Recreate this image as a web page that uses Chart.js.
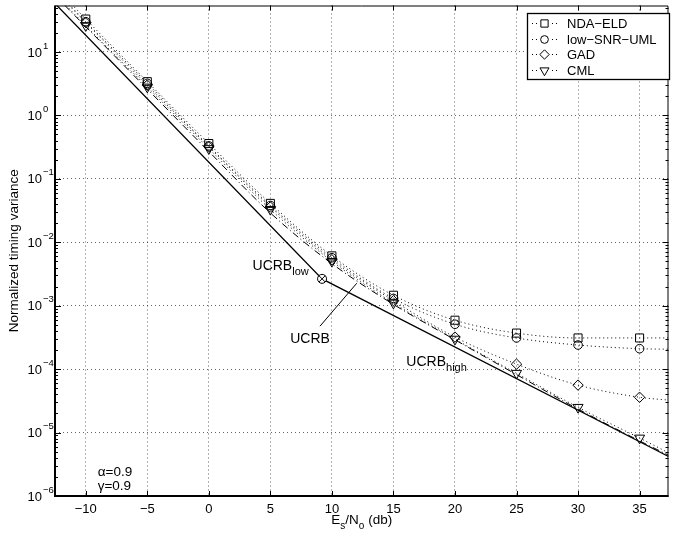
<!DOCTYPE html>
<html>
<head>
<meta charset="utf-8">
<script src="https://cdn.jsdelivr.net/npm/chart.js@4.4.0/dist/chart.umd.min.js"></script>
<style>
  html, body { margin: 0; padding: 0; background: #fff; }
  canvas { display: block; }
</style>
</head>
<body>
<canvas id="c" width="674" height="537"></canvas>
<script>
// simulation points (Es/No in dB) and the four estimators
const snrDb     = [-10, -5, 0, 5, 10, 15, 20, 25, 30, 35];
const ndaEld    = [33, 3.4, 0.36, 0.041, 6.1e-3, 1.46e-3, 5.9e-4, 3.7e-4, 3.1e-4, 3.1e-4];
const lowSnrUml = [30, 3.2, 0.33, 0.038, 5.7e-3, 1.3e-3, 5.1e-4, 3.1e-4, 2.4e-4, 2.1e-4];
const gad       = [29, 3.0, 0.32, 0.036, 5.3e-3, 1.2e-3, 3.2e-4, 1.2e-4, 5.6e-5, 3.6e-5];
const cml       = [26, 2.8, 0.30, 0.033, 5.0e-3, 1.1e-3, 2.97e-4, 8.6e-5, 2.5e-5, 8.2e-6];

// the dotted curves run on past the markers up to the frame
const edgeDb        = [-12.5, 37.35];
const ndaEldEdge    = [107, 3.1e-4];
const lowSnrUmlEdge = [95, 2.06e-4];
const gadEdge       = [92, 3.25e-5];
const cmlEdge       = [82, 4.8e-6];

// dash-dot curve (no marker, not in the legend)
const dashDb  = [-12.5, -10, -5, 0, 5, 10, 15, 20, 25, 30, 35, 37.35];
const dashVal = [78, 25, 2.6, 0.27, 0.029, 4.6e-3, 1.05e-3, 2.9e-4, 8.2e-5, 2.35e-5, 7.4e-6, 4.4e-6];

// UCRB: low-SNR branch, knee, high-SNR branch
const ucrbDb  = [-12.5, 9.2, 37.35];
const ucrbVal = [58, 2.65e-3, 4.2e-6];
const kneeDb = [9.2], kneeVal = [2.65e-3];

// leader line to the "UCRB" label
const leaderDb  = [9.03, 12.02];
const leaderVal = [4.75e-4, 2.26e-3];

const xTicks = [-10, -5, 0, 5, 10, 15, 20, 25, 30, 35];
const yExps  = [-6, -5, -4, -3, -2, -1, 0, 1];
const legendNames = ['NDA\u2212ELD', 'low\u2212SNR\u2212UML', 'GAD', 'CML'];

const FONT = "'Liberation Sans', Arial, Helvetica, sans-serif";

const pts = (xs, ys) => xs.map((x, i) => ({ x, y: ys[i] }));
const curve = (edge, vals) => [{ x: edgeDb[0], y: edge[0] }, ...pts(snrDb, vals), { x: edgeDb[1], y: edge[1] }];
const radii = r => [0, ...snrDb.map(() => r), 0];

const MK = [
  { pointStyle: 'rect',     radius: 5.7, rotation: 0 },
  { pointStyle: 'circle',   radius: 4.3, rotation: 0 },
  { pointStyle: 'rectRot',  radius: 5.2, rotation: 0 },
  { pointStyle: 'triangle', radius: 5.8, rotation: 180 },
];

function estDs(label, data, mk) {
  return {
    label, data,
    borderColor: '#000', borderWidth: 1, borderDash: [1, 3],
    cubicInterpolationMode: 'monotone',
    pointStyle: mk.pointStyle, pointRotation: mk.rotation,
    pointRadius: radii(mk.radius),
    pointBorderColor: '#000', pointBackgroundColor: 'rgba(0,0,0,0)', pointBorderWidth: 1,
  };
}

// rich text: parts = [[text, 'n' | 'sub' | 'sup'], ...]
function rich(ctx, x, y, parts, size, subSize, align) {
  const w = parts.map(([t, k]) => {
    ctx.font = (k === 'n' ? size : subSize) + 'px ' + FONT;
    return ctx.measureText(t).width;
  });
  const total = w.reduce((a, b) => a + b, 0);
  let cx = align === 'center' ? x - total / 2 : x;
  ctx.textAlign = 'left';
  ctx.textBaseline = 'alphabetic';
  parts.forEach(([t, k], i) => {
    ctx.font = (k === 'n' ? size : subSize) + 'px ' + FONT;
    const dy = k === 'sub' ? size * 0.35 : k === 'sup' ? -size * 0.45 : 0;
    ctx.fillText(t, cx, y + dy);
    cx += w[i];
  });
}

const decor = {
  id: 'decor',
  afterDraw(chart) {
    const { ctx, chartArea: a, scales: { x, y } } = chart;
    ctx.save();
    ctx.fillStyle = '#000';
    ctx.strokeStyle = '#000';
    ctx.setLineDash([]);

    // inward ticks on all four sides
    ctx.lineWidth = 1;
    ctx.beginPath();
    xTicks.forEach(v => {
      const px = Math.round(x.getPixelForValue(v)) + 0.5;
      ctx.moveTo(px, a.bottom); ctx.lineTo(px, a.bottom - 5);
      ctx.moveTo(px, a.top);    ctx.lineTo(px, a.top + 5);
    });
    yExps.forEach(e => {
      for (let m = 1; m < 10; m++) {
        const v = m * Math.pow(10, e);
        if (v > y.max) break;
        const len = m === 1 ? 6 : 3;
        const py = Math.round(y.getPixelForValue(v)) + 0.5;
        ctx.moveTo(a.left, py);  ctx.lineTo(a.left + len, py);
        ctx.moveTo(a.right, py); ctx.lineTo(a.right - len, py);
      }
    });
    ctx.stroke();

    // frame: heavier left/bottom
    ctx.lineWidth = 1;
    ctx.beginPath();
    ctx.moveTo(a.left, a.top + 0.5); ctx.lineTo(a.right - 0.5, a.top + 0.5); ctx.lineTo(a.right - 0.5, a.bottom);
    ctx.stroke();
    ctx.lineWidth = 2;
    ctx.beginPath();
    ctx.moveTo(a.left, a.top); ctx.lineTo(a.left, a.bottom); ctx.lineTo(a.right, a.bottom);
    ctx.stroke();

    // x tick labels
    ctx.font = '13px ' + FONT;
    ctx.textAlign = 'center';
    ctx.textBaseline = 'middle';
    xTicks.forEach(v => {
      const s = v < 0 ? '\u2212' + (-v) : String(v);
      ctx.fillText(s, x.getPixelForValue(v), 509);
    });

    // y tick labels 10^k
    yExps.forEach(e => {
      const py = y.getPixelForValue(Math.pow(10, e));
      ctx.font = '13px ' + FONT;
      ctx.textAlign = 'right';
      ctx.textBaseline = 'middle';
      ctx.fillText('10', 42, py + 1);
      ctx.font = '9.5px ' + FONT;
      ctx.textAlign = 'left';
      ctx.fillText(e < 0 ? '\u2212' + (-e) : String(e), 43, py - 6);
    });

    // axis titles
    ctx.save();
    ctx.translate(14, (a.top + a.bottom) / 2);
    ctx.rotate(-Math.PI / 2);
    ctx.font = '13.5px ' + FONT;
    ctx.textAlign = 'center';
    ctx.textBaseline = 'middle';
    ctx.fillText('Normalized timing variance', 0, 0);
    ctx.restore();
    rich(ctx, (a.left + a.right) / 2, 524,
      [['E', 'n'], ['s', 'sub'], ['/N', 'n'], ['o', 'sub'], [' (db)', 'n']], 13.5, 10, 'center');

    // curve annotations, anchored in data space
    const at = (dx, dy) => [x.getPixelForValue(dx), y.getPixelForValue(dy)];
    let p = at(3.55, 3.62e-3);
    rich(ctx, p[0], p[1], [['UCRB', 'n'], ['low', 'sub']], 14, 11, 'left');
    p = at(6.61, 2.56e-4);
    rich(ctx, p[0], p[1], [['UCRB', 'n']], 14, 11, 'left');
    p = at(16.05, 1.11e-4);
    rich(ctx, p[0], p[1], [['UCRB', 'n'], ['high', 'sub']], 14, 11, 'left');
    p = at(-9.03, 2.07e-6);
    rich(ctx, p[0], p[1], [['\u03b1=0.9', 'n']], 13.5, 10, 'left');
    p = at(-9.03, 1.24e-6);
    rich(ctx, p[0], p[1], [['\u03b3=0.9', 'n']], 13.5, 10, 'left');

    // legend box
    const L = { x0: 527, y0: 13, x1: 669, y1: 79 };
    ctx.fillStyle = '#fff';
    ctx.fillRect(L.x0, L.y0, L.x1 - L.x0, L.y1 - L.y0);
    ctx.lineWidth = 1.3;
    ctx.strokeStyle = '#000';
    ctx.strokeRect(L.x0 + 0.5, L.y0 + 0.5, L.x1 - L.x0, L.y1 - L.y0);
    const rowY = [23, 39, 54, 70];
    legendNames.forEach((name, i) => {
      const ry = rowY[i];
      ctx.setLineDash([1, 3]);
      ctx.lineWidth = 1;
      ctx.beginPath(); ctx.moveTo(532, ry + 0.5); ctx.lineTo(557, ry + 0.5); ctx.stroke();
      ctx.setLineDash([]);
      ctx.fillStyle = '#fff';
      ctx.fillRect(539, ry - 6, 11, 12);
      ctx.fillStyle = 'rgba(0,0,0,0)';
      ctx.strokeStyle = '#000';
      ctx.lineWidth = 1;
      Chart.helpers.drawPoint(ctx, { pointStyle: MK[i].pointStyle, radius: MK[i].radius * 0.9, rotation: MK[i].rotation, borderWidth: 1 }, 544.5, ry + 0.5);
      ctx.fillStyle = '#000';
      ctx.font = '13px ' + FONT;
      ctx.textAlign = 'left';
      ctx.textBaseline = 'middle';
      ctx.fillText(name, 567, ry + 1);
    });
    ctx.restore();
  },
};

new Chart(document.getElementById('c'), {
  type: 'line',
  data: {
    datasets: [
      // knee marker (circle + cross) first so it sits on top of the lines
      { label: 'knee-x', data: pts(kneeDb, kneeVal), showLine: false, pointStyle: 'crossRot', pointRadius: 4.5,
        pointBorderColor: '#000', pointBorderWidth: 1 },
      { label: 'knee-o', data: pts(kneeDb, kneeVal), showLine: false, pointStyle: 'circle', pointRadius: 4.5,
        pointBorderColor: '#000', pointBackgroundColor: '#fff', pointBorderWidth: 1 },
      estDs(legendNames[0], curve(ndaEldEdge, ndaEld), MK[0]),
      estDs(legendNames[1], curve(lowSnrUmlEdge, lowSnrUml), MK[1]),
      estDs(legendNames[2], curve(gadEdge, gad), MK[2]),
      estDs(legendNames[3], curve(cmlEdge, cml), MK[3]),
      { label: 'dashdot', data: pts(dashDb, dashVal), borderColor: '#000', borderWidth: 1,
        borderDash: [7, 3, 1, 3], cubicInterpolationMode: 'monotone', pointRadius: 0 },
      { label: 'UCRB', data: pts(ucrbDb, ucrbVal), borderColor: '#000', borderWidth: 1.3, pointRadius: 0 },
      { label: 'leader', data: pts(leaderDb, leaderVal), borderColor: '#000', borderWidth: 1, pointRadius: 0 },
    ],
  },
  options: {
    responsive: false,
    animation: false,
    devicePixelRatio: 1,
    events: [],
    layout: { padding: { left: 55, right: 1, top: 5, bottom: 41 } },
    plugins: { legend: { display: false }, tooltip: { enabled: false } },
    scales: {
      x: {
        type: 'linear', min: -12.5, max: 37.35, bounds: 'data',
        afterBuildTicks: s => { s.ticks = xTicks.map(value => ({ value })); },
        ticks: { display: false },
        grid: { color: 'rgba(0,0,0,0.6)', lineWidth: 1, drawTicks: false },
        border: { display: false, dash: [1, 3] },
      },
      y: {
        type: 'logarithmic', min: 1e-6, max: 54, bounds: 'data',
        afterBuildTicks: s => { s.ticks = yExps.map(e => ({ value: Math.pow(10, e) })); },
        ticks: { display: false },
        grid: { color: 'rgba(0,0,0,0.6)', lineWidth: 1, drawTicks: false },
        border: { display: false, dash: [1, 3] },
      },
    },
  },
  plugins: [decor],
});
</script>
</body>
</html>
